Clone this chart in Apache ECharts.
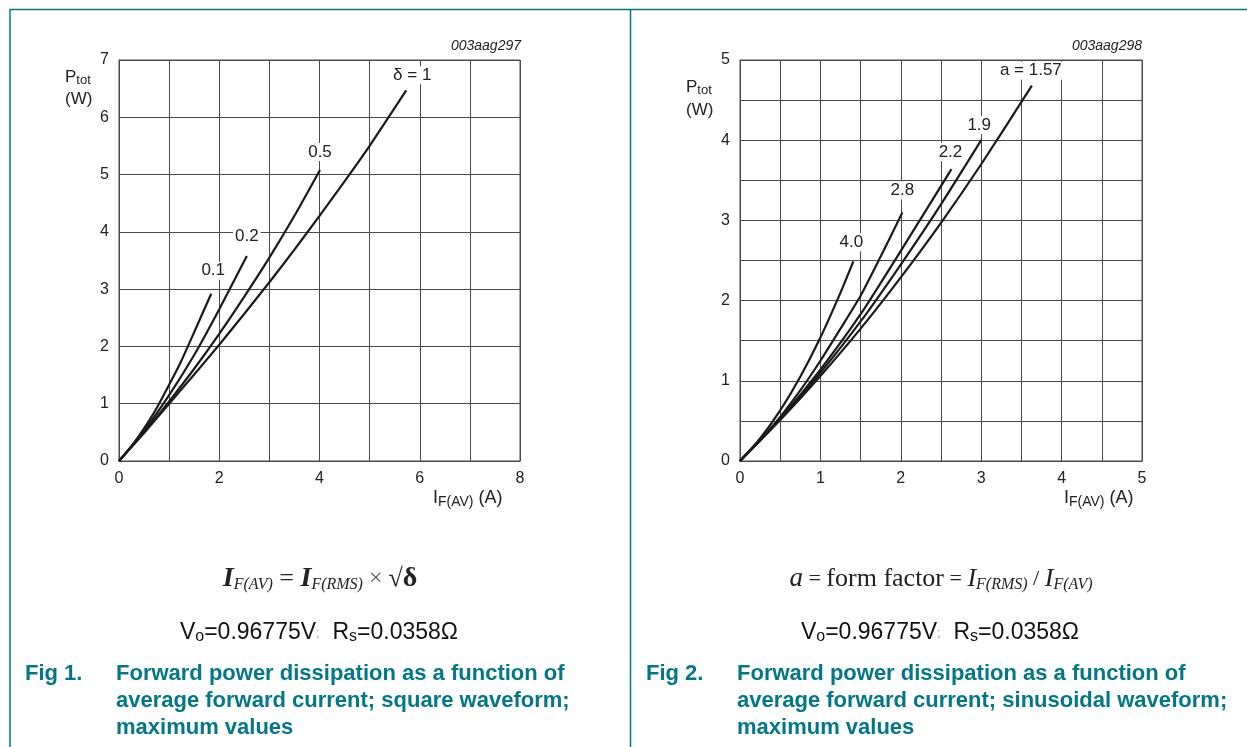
<!DOCTYPE html>
<html>
<head>
<meta charset="utf-8">
<script src="https://cdn.jsdelivr.net/npm/echarts@6/dist/echarts.min.js"></script>
<style>
html,body{margin:0;padding:0;background:#fff;}
#c{width:1247px;height:747px;}
</style>
</head>
<body>
<div id="c"></div>
<script>
// ---- Fig 1 data: square waveform, curves for duty cycle δ ----
const sqLabels = ['0.1', '0.2', '0.5', 'δ = 1'];
const sqX_01 = [0, 0.25, 0.5, 0.75, 1, 1.25, 1.5, 1.84];
const sqY_01 = [0, 0.26, 0.57, 0.92, 1.33, 1.76, 2.25, 2.92];
const sqX_02 = [0, 0.5, 1, 1.5, 2, 2.55];
const sqY_02 = [0, 0.53, 1.15, 1.85, 2.65, 3.58];
const sqX_05 = [0, 0.5, 1, 1.5, 2, 2.5, 3, 3.5, 4.01];
const sqY_05 = [0, 0.5, 1.04, 1.61, 2.22, 2.87, 3.55, 4.28, 5.08];
const sqX_1 = [0, 0.5, 1, 1.5, 2, 2.5, 3, 3.5, 4, 4.5, 5, 5.73];
const sqY_1 = [0, 0.49, 1.0, 1.51, 2.03, 2.57, 3.12, 3.69, 4.28, 4.88, 5.5, 6.47];

// ---- Fig 2 data: sinusoidal waveform, curves for form factor a ----
const sinLabels = ['a = 1.57', '1.9', '2.2', '2.8', '4.0'];
const sinX_157 = [0, 0.5, 1, 1.5, 2, 2.5, 3, 3.63];
const sinY_157 = [0, 0.51, 1.06, 1.65, 2.29, 2.97, 3.7, 4.68];
const sinX_19 = [0, 0.5, 1, 1.5, 2, 2.5, 3.0];
const sinY_19 = [0, 0.52, 1.1, 1.74, 2.45, 3.2, 4.0];
const sinX_22 = [0, 0.5, 1, 1.5, 2, 2.63];
const sinY_22 = [0, 0.53, 1.14, 1.83, 2.62, 3.64];
const sinX_28 = [0, 0.25, 0.5, 0.75, 1, 1.25, 1.5, 1.75, 2.02];
const sinY_28 = [0, 0.26, 0.55, 0.88, 1.25, 1.65, 2.06, 2.55, 3.1];
const sinX_40 = [0, 0.25, 0.5, 0.75, 1, 1.25, 1.41];
const sinY_40 = [0, 0.28, 0.63, 1.05, 1.54, 2.1, 2.49];

// tick labels
const sqXTicks = ['0', '2', '4', '6', '8'];
const sqYTicks = ['0', '1', '2', '3', '4', '5', '6', '7'];
const sinXTicks = ['0', '1', '2', '3', '4', '5'];
const sinYTicks = ['0', '1', '2', '3', '4', '5'];

const TEAL = '#00788a';
const FONT = '"Liberation Sans", Arial, sans-serif';
const SERIF = '"Liberation Serif", "Times New Roman", serif';
const GRIDC = '#4a4a4a';
const CURVE = '#1a1a1a';

function zip(xs, ys) { return xs.map((x, i) => [x, ys[i]]); }

function curve(xs, ys, label, gi, offset) {
  const last = [xs[xs.length - 1], ys[ys.length - 1]];
  return {
    type: 'line', xAxisIndex: gi, yAxisIndex: gi,
    data: zip(xs, ys), smooth: 0.2, showSymbol: false, symbol: 'none',
    lineStyle: { color: CURVE, width: 2.2 },
    markPoint: {
      symbol: 'rect', symbolSize: 1, silent: true,
      itemStyle: { color: 'rgba(0,0,0,0)' },
      label: {
        show: true, position: 'inside', offset: offset,
        formatter: '{b}', fontFamily: FONT, fontSize: 17, color: '#222',
        backgroundColor: '#fff', padding: [1, 2, 0, 2]
      },
      data: [{ name: label, coord: last }]
    },
    z: 3
  };
}

function xAxis(gi, max, interval, ticks) {
  return {
    type: 'value', gridIndex: gi, min: 0, max: max, interval: interval,
    axisLine: { show: true, lineStyle: { color: GRIDC, width: 1 } },
    axisTick: { show: false },
    splitLine: { show: true, lineStyle: { color: GRIDC, width: 1 } },
    axisLabel: {
      fontFamily: FONT, fontSize: 16, color: '#222', margin: 10,
      formatter: v => (ticks.indexOf(String(v)) >= 0 ? String(v) : '')
    }
  };
}
function yAxis(gi, max, interval, ticks) {
  return {
    type: 'value', gridIndex: gi, min: 0, max: max, interval: interval,
    axisLine: { show: true, lineStyle: { color: GRIDC, width: 1 } },
    axisTick: { show: false },
    splitLine: { show: true, lineStyle: { color: GRIDC, width: 1 } },
    axisLabel: {
      fontFamily: FONT, fontSize: 16, color: '#222', margin: 10,
      formatter: v => (ticks.indexOf(String(v)) >= 0 ? String(v) : '')
    }
  };
}

const subRich = {
  n: { fontFamily: FONT, fontSize: 17, fill: '#222' },
  s: { fontFamily: FONT, fontSize: 13, fill: '#222', verticalAlign: 'bottom', padding: [7, 0, 0, 0] }
};
const xnameRich = {
  n: { fontFamily: FONT, fontSize: 18, fill: '#222' },
  s: { fontFamily: FONT, fontSize: 14, fill: '#222', verticalAlign: 'bottom', padding: [7, 0, 0, 0] }
};

function txt(x, y, text, opts) {
  return Object.assign({ type: 'text', x: x, y: y, style: Object.assign({ text: text, fontFamily: FONT, fontSize: 15, fill: '#222' }, opts || {}) });
}

const chart = echarts.init(document.getElementById('c'), null, { renderer: 'canvas' });

const constRich = {
  n: { fontFamily: FONT, fontSize: 23, fill: '#111' },
  s: { fontFamily: FONT, fontSize: 16, fill: '#111', verticalAlign: 'bottom', padding: [7, 0, 0, 0] },
  m: { fontFamily: FONT, fontSize: 13, fill: '#999' }
};

const graphics = [
  // frame lines
  { type: 'line', shape: { x1: 9.5, y1: 9.5, x2: 1247, y2: 9.5 }, style: { stroke: TEAL, lineWidth: 1.5 } },
  { type: 'line', shape: { x1: 10, y1: 9.5, x2: 10, y2: 747 }, style: { stroke: TEAL, lineWidth: 1.5 } },
  { type: 'line', shape: { x1: 630.5, y1: 9.5, x2: 630.5, y2: 747 }, style: { stroke: TEAL, lineWidth: 1.5 } },

  // figure codes
  txt(521, 39, '003aag297', { fontStyle: 'italic', fontSize: 14, align: 'right' }),
  txt(1142, 39, '003aag298', { fontStyle: 'italic', fontSize: 14, align: 'right' }),

  // y axis names
  { type: 'text', x: 65, y: 67, style: { text: '{n|P}{s|tot}', rich: subRich } },
  txt(65, 91, '(W)', { fontSize: 17 }),
  { type: 'text', x: 686, y: 77, style: { text: '{n|P}{s|tot}', rich: subRich } },
  txt(686, 102, '(W)', { fontSize: 17 }),

  // x axis names
  { type: 'text', x: 433, y: 488, style: { text: '{n|I}{s|F(AV)}{n| (A)}', rich: xnameRich } },
  { type: 'text', x: 1064, y: 488, style: { text: '{n|I}{s|F(AV)}{n| (A)}', rich: xnameRich } },

  // formulas
  { type: 'text', x: 320, y: 579, style: {
      text: '{I|I}{s|F(AV)}{o| = }{I|I}{s|F(RMS)}{x| × }{r|√}{d|δ}',
      align: 'center', verticalAlign: 'middle',
      rich: {
        I: { fontFamily: SERIF, fontSize: 28, fontStyle: 'italic', fontWeight: 'bold', fill: '#222' },
        s: { fontFamily: SERIF, fontSize: 16, fontStyle: 'italic', fill: '#222', verticalAlign: 'bottom', padding: [9, 0, 0, 0] },
        o: { fontFamily: SERIF, fontSize: 26, fill: '#222' },
        x: { fontFamily: SERIF, fontSize: 24, fill: '#555' },
        r: { fontFamily: SERIF, fontSize: 26, fill: '#222' },
        d: { fontFamily: SERIF, fontSize: 28, fontWeight: 'bold', fill: '#222' }
      } } },
  { type: 'text', x: 941, y: 579, style: {
      text: '{a|a}{o| = }{t|form factor}{o| = }{I|I}{s|F(RMS)}{o| / }{I|I}{s|F(AV)}',
      align: 'center', verticalAlign: 'middle',
      rich: {
        a: { fontFamily: SERIF, fontSize: 27, fontStyle: 'italic', fill: '#222' },
        t: { fontFamily: SERIF, fontSize: 26, fill: '#222' },
        I: { fontFamily: SERIF, fontSize: 26, fontStyle: 'italic', fill: '#222' },
        s: { fontFamily: SERIF, fontSize: 16, fontStyle: 'italic', fill: '#222', verticalAlign: 'bottom', padding: [9, 0, 0, 0] },
        o: { fontFamily: SERIF, fontSize: 22, fill: '#222' }
      } } },

  // constants
  { type: 'text', x: 319, y: 633, style: {
      text: '{n|V}{s|o}{n|=0.96775V}{m|;}{n|  R}{s|s}{n|=0.0358Ω}', align: 'center', verticalAlign: 'middle',
      rich: constRich } },
  { type: 'text', x: 940, y: 633, style: {
      text: '{n|V}{s|o}{n|=0.96775V}{m|;}{n|  R}{s|s}{n|=0.0358Ω}', align: 'center', verticalAlign: 'middle',
      rich: constRich } },

  // captions
  txt(25, 660, 'Fig 1.', { fill: TEAL, fontWeight: 'bold', fontSize: 22, lineHeight: 27 }),
  txt(116, 660, 'Forward power dissipation as a function of\naverage forward current; square waveform;\nmaximum values', { fill: TEAL, fontWeight: 'bold', fontSize: 22, lineHeight: 27 }),
  txt(646, 660, 'Fig 2.', { fill: TEAL, fontWeight: 'bold', fontSize: 22, lineHeight: 27 }),
  txt(737, 660, 'Forward power dissipation as a function of\naverage forward current; sinusoidal waveform;\nmaximum values', { fill: TEAL, fontWeight: 'bold', fontSize: 22, lineHeight: 27 })
];

chart.setOption({
  animation: false,
  backgroundColor: '#fff',
  grid: [
    { left: 119, top: 60, width: 401, height: 401, show: true, borderColor: GRIDC, borderWidth: 1 },
    { left: 740, top: 60, width: 402, height: 401, show: true, borderColor: GRIDC, borderWidth: 1 }
  ],
  xAxis: [xAxis(0, 8, 1, sqXTicks), xAxis(1, 5, 0.5, sinXTicks)],
  yAxis: [yAxis(0, 7, 1, sqYTicks), yAxis(1, 5, 0.5, sinYTicks)],
  series: [
    curve(sqX_01, sqY_01, sqLabels[0], 0, [2, -23]),
    curve(sqX_02, sqY_02, sqLabels[1], 0, [0, -20]),
    curve(sqX_05, sqY_05, sqLabels[2], 0, [0, -18]),
    curve(sqX_1, sqY_1, sqLabels[3], 0, [6, -15]),
    curve(sinX_157, sinY_157, sinLabels[0], 1, [-1, -15]),
    curve(sinX_19, sinY_19, sinLabels[1], 1, [-2, -15]),
    curve(sinX_22, sinY_22, sinLabels[2], 1, [-1, -17]),
    curve(sinX_28, sinY_28, sinLabels[3], 1, [0, -22]),
    curve(sinX_40, sinY_40, sinLabels[4], 1, [-2, -19])
  ],
  graphic: graphics
});
</script>
</body>
</html>
